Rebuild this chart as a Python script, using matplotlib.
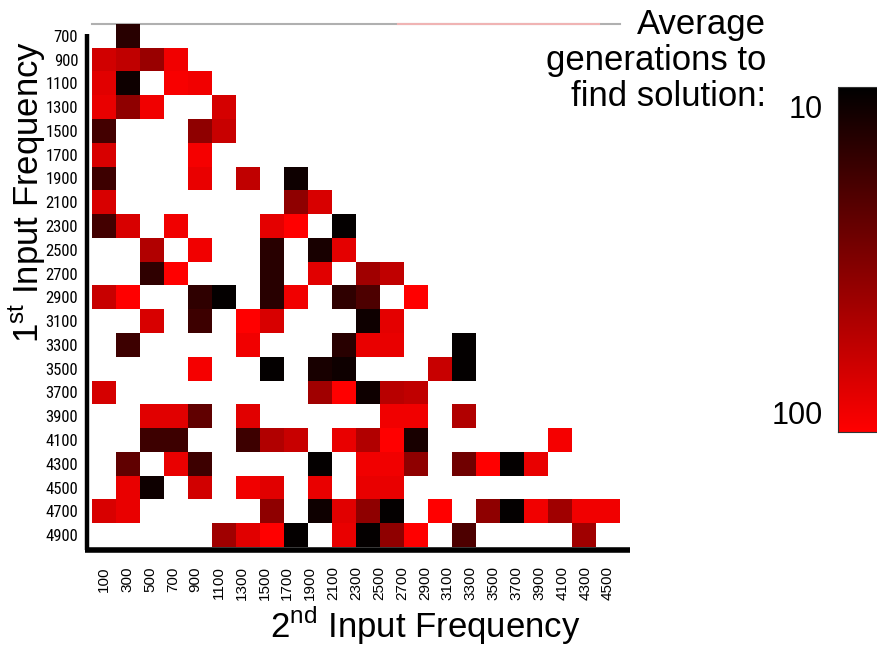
import numpy as np
import matplotlib
matplotlib.use('Agg')
from matplotlib import pyplot as plt
from matplotlib import font_manager
from matplotlib.colors import LinearSegmentedColormap, LogNorm
from matplotlib.ticker import NullLocator

plt.rcParams['font.family'] = ['Liberation Sans', 'DejaVu Sans']
plt.rcParams['mathtext.fontset'] = 'custom'
plt.rcParams['mathtext.rm'] = 'Liberation Sans'

# 1st input frequency (rows) and 2nd input frequency labels (columns)
row_freqs = [700, 900, 1100, 1300, 1500, 1700, 1900, 2100, 2300, 2500, 2700,
             2900, 3100, 3300, 3500, 3700, 3900, 4100, 4300, 4500, 4700, 4900]
col_labels = [100, 300, 500, 700, 900, 1100, 1300, 1500, 1700, 1900, 2100, 2300,
              2500, 2700, 2900, 3100, 3300, 3500, 3700, 3900, 4100, 4300, 4500]

# average generations to find a solution, 0 = no solution found
gens = [
    [0, 13, 0, 0, 0, 0, 0, 0, 0, 0, 0, 0, 0, 0, 0, 0, 0, 0, 0, 0, 0, 0],
    [72, 61, 41, 100, 0, 0, 0, 0, 0, 0, 0, 0, 0, 0, 0, 0, 0, 0, 0, 0, 0, 0],
    [85, 10, 0, 108, 100, 0, 0, 0, 0, 0, 0, 0, 0, 0, 0, 0, 0, 0, 0, 0, 0, 0],
    [92, 37, 100, 0, 0, 75, 0, 0, 0, 0, 0, 0, 0, 0, 0, 0, 0, 0, 0, 0, 0, 0],
    [17, 0, 0, 0, 37, 66, 0, 0, 0, 0, 0, 0, 0, 0, 0, 0, 0, 0, 0, 0, 0, 0],
    [78, 0, 0, 0, 104, 0, 0, 0, 0, 0, 0, 0, 0, 0, 0, 0, 0, 0, 0, 0, 0, 0],
    [16, 0, 0, 0, 92, 0, 61, 0, 10, 0, 0, 0, 0, 0, 0, 0, 0, 0, 0, 0, 0, 0],
    [78, 0, 0, 0, 0, 0, 0, 0, 37, 78, 0, 0, 0, 0, 0, 0, 0, 0, 0, 0, 0, 0],
    [17, 78, 0, 100, 0, 0, 0, 88, 116, 0, 9, 0, 0, 0, 0, 0, 0, 0, 0, 0, 0, 0],
    [0, 0, 52, 0, 100, 0, 0, 13, 0, 11, 88, 0, 0, 0, 0, 0, 0, 0, 0, 0, 0, 0],
    [0, 0, 14, 116, 0, 0, 0, 13, 0, 85, 0, 44, 61, 0, 0, 0, 0, 0, 0, 0, 0, 0],
    [66, 116, 0, 0, 14, 9, 0, 13, 100, 0, 14, 19, 0, 116, 0, 0, 0, 0, 0, 0, 0, 0],
    [0, 0, 78, 0, 16, 0, 116, 78, 0, 0, 0, 10, 88, 0, 0, 0, 0, 0, 0, 0, 0, 0],
    [0, 16, 0, 0, 0, 0, 100, 0, 0, 0, 13, 92, 92, 0, 0, 9, 0, 0, 0, 0, 0, 0],
    [0, 0, 0, 0, 104, 0, 0, 9, 0, 11, 10, 0, 0, 0, 66, 9, 0, 0, 0, 0, 0, 0],
    [75, 0, 0, 0, 0, 0, 0, 0, 0, 44, 116, 10, 56, 61, 0, 0, 0, 0, 0, 0, 0, 0],
    [0, 0, 85, 85, 23, 0, 85, 0, 0, 0, 0, 0, 100, 100, 0, 52, 0, 0, 0, 0, 0, 0],
    [0, 0, 16, 16, 0, 0, 16, 52, 66, 0, 92, 52, 116, 11, 0, 0, 0, 0, 0, 104, 0, 0],
    [0, 23, 0, 92, 16, 0, 0, 0, 0, 9, 0, 100, 100, 37, 0, 27, 116, 9, 92, 0, 0, 0],
    [0, 92, 10, 0, 72, 0, 100, 85, 0, 92, 0, 92, 92, 0, 0, 0, 0, 0, 0, 0, 0, 0],
    [78, 92, 0, 0, 0, 0, 0, 37, 0, 10, 85, 37, 9, 0, 116, 0, 37, 9, 100, 44, 100, 100],
    [0, 0, 0, 0, 0, 44, 85, 116, 9, 0, 92, 9, 37, 116, 0, 19, 0, 0, 0, 0, 44, 0],
]

data = np.ma.masked_equal(np.array(gens, dtype=float), 0)
n_rows, n_cols = data.shape

cmap = LinearSegmentedColormap.from_list('blackred', ['#000000', '#ff0000'])
norm = LogNorm(vmin=8.6, vmax=116)

# narrow font for the row labels if one is around
names = set(f.name for f in font_manager.fontManager.ttflist)
narrow = None
for fam in ['Liberation Sans Narrow', 'Roboto Condensed', 'Open Sans Condensed']:
    if fam in names:
        narrow = font_manager.FontProperties(family=fam, size=12)
        break
if narrow is None:
    condensed = [f for f in font_manager.fontManager.ttflist
                 if 'Condensed' in f.fname and 'Bold' not in f.fname
                 and 'Oblique' not in f.fname and 'Italic' not in f.fname]
    if condensed:
        narrow = font_manager.FontProperties(fname=condensed[0].fname, size=12)
    else:
        narrow = font_manager.FontProperties(family='Liberation Sans', size=10)

fig = plt.figure(figsize=(8.77, 6.45), dpi=100)
ax = fig.add_axes([0.105, 0.152, 0.602, 0.811])

# faint line along the top of the grid
ax.plot([0, 1], [1, 1], color='#b0b0b0', lw=1.5, transform=ax.transAxes,
        clip_on=False, zorder=0)
ax.plot([0.58, 0.96], [1, 1], color='#f0b4b4', lw=1.5, transform=ax.transAxes,
        clip_on=False, zorder=0)

mesh = ax.pcolormesh(np.arange(n_cols + 1), np.arange(n_rows + 1), data,
                     cmap=cmap, norm=norm, antialiased=False, zorder=1)
ax.set_xlim(0, n_cols)
ax.set_ylim(n_rows, 0)

for s in ax.spines.values():
    s.set_visible(False)

# thick black axis lines
ax.plot([-0.0095, -0.0095], [-0.006, 0.981], color='k', lw=3.2,
        transform=ax.transAxes, clip_on=False, solid_capstyle='butt')
ax.plot([-0.013, 1.019], [-0.006, -0.006], color='k', lw=4,
        transform=ax.transAxes, clip_on=False, solid_capstyle='butt')

ax.set_yticks(np.arange(n_rows) + 0.5)
ax.set_yticklabels(row_freqs, fontproperties=narrow)
ax.set_xticks(np.linspace(0.5, n_cols - 0.5, len(col_labels)))
ax.set_xticklabels(col_labels, rotation=90, fontsize=11)
ax.tick_params(axis='y', length=0, pad=10)
ax.tick_params(axis='x', length=0, pad=14)

fig.text(27 / 877, 1 - 192 / 645, r'1$^{\mathrm{st}}$ Input Frequency',
         rotation=90, ha='center', va='center', fontsize=25)
fig.text(425 / 877, 1 - 625 / 645, r'2$^{\mathrm{nd}}$ Input Frequency',
         ha='center', va='center', fontsize=25)

fig.text(766 / 877, 1 - 8 / 645, 'Average\ngenerations to\nfind solution:',
         ha='right', va='top', fontsize=25, linespacing=1.12)

cax = fig.add_axes([838 / 877, 1 - 432 / 645, 0.06, 345 / 645])
cbar = fig.colorbar(mesh, cax=cax)
cbar.ax.invert_yaxis()
cbar.set_ticks([10, 100])
cbar.set_ticklabels(['10', '100'])
cbar.ax.yaxis.set_minor_locator(NullLocator())
cbar.ax.yaxis.set_ticks_position('left')
cbar.ax.tick_params(length=0, pad=11, labelsize=22)
cbar.outline.set_linewidth(0.8)
cbar.outline.set_edgecolor('#333333')

fig.savefig('out.png', dpi=100)
